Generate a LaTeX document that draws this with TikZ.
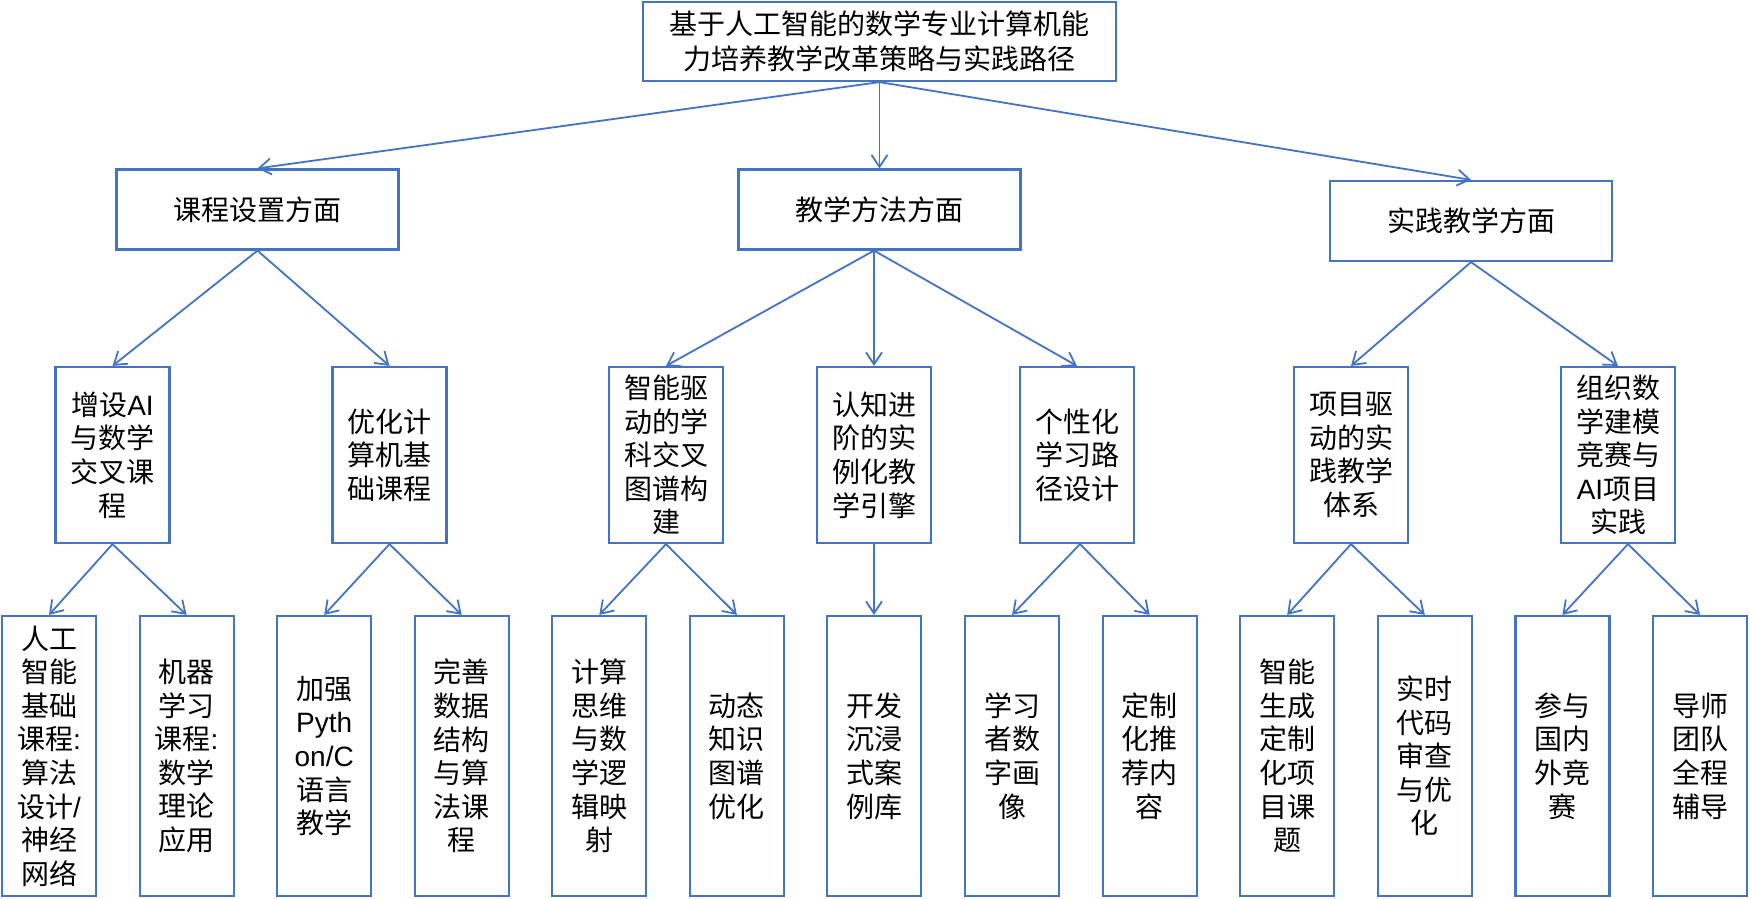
\documentclass[tikz,border=0pt]{standalone}
\usepackage{fontspec}
\setmainfont{Noto Sans CJK SC}
\newfontfamily\lat{Liberation Sans}
\usetikzlibrary{arrows.meta}
\definecolor{bl}{HTML}{4472C4}
\begin{document}
\begin{tikzpicture}[x=1pt,y=-1pt,
 box/.style={draw=bl,line width=2.2pt,rectangle,inner sep=0pt,align=center,font=\fontsize{28}{33.6}\selectfont,fill=white},
 topbox/.style={box,minimum width=473pt,minimum height=79pt,font=\fontsize{28}{35}\selectfont},
 midbox/.style={box,minimum width=282pt,minimum height=80pt},
 lthree/.style={box,minimum width=114pt,minimum height=176pt},
 lfour/.style={box,minimum width=94pt,minimum height=280pt},
 conn/.style={draw=bl,line width=1.8pt,-{Straight Barb[length=12pt,width=16pt]}}
]
\fill[white] (0,0) rectangle (1750,898);
\useasboundingbox (0,0) rectangle (1750,898);

% level 1
\node[topbox] (top) at (879.5,41.5) {基于人工智能的数学专业计算机能\\力培养教学改革策略与实践路径};

% level 2
\node[midbox] (a) at (257.5,209.5) {课程设置方面};
\node[midbox] (b) at (879.5,209.5) {教学方法方面};
\node[midbox] (c) at (1471,221) {实践教学方面};
\coordinate (bs) at ([xshift=-5.5pt]b.south);

% level 3
\node[lthree] (a1) at (112.5,455) {增设{\lat AI}\\与数学\\交叉课\\程};
\node[lthree] (a2) at (389.5,455) {优化计\\算机基\\础课程};
\node[lthree] (b1) at (666,455) {智能驱\\动的学\\科交叉\\图谱构\\建};
\node[lthree] (b2) at (874,455) {认知进\\阶的实\\例化教\\学引擎};
\node[lthree] (b3) at (1077,455) {个性化\\学习路\\径设计};
\node[lthree] (c1) at (1351,455) {项目驱\\动的实\\践教学\\体系};
\node[lthree] (c2) at (1618,455) {组织数\\学建模\\竞赛与\\{\lat AI}项目\\实践};

% level 4
\node[lfour] (d1) at (49,756) {人工\\智能\\基础\\课程{\lat :}\\算法\\设计{\lat /}\\神经\\网络};
\node[lfour] (d2) at (186.6,756) {机器\\学习\\课程{\lat :}\\数学\\理论\\应用};
\node[lfour] (d3) at (324.2,756) {加强\\{\lat Pyth}\\{\lat on/C}\\语言\\教学};
\node[lfour] (d4) at (461.7,756) {完善\\数据\\结构\\与算\\法课\\程};
\node[lfour] (d5) at (599.3,756) {计算\\思维\\与数\\学逻\\辑映\\射};
\node[lfour] (d6) at (736.9,756) {动态\\知识\\图谱\\优化};
\node[lfour] (d7) at (874,756) {开发\\沉浸\\式案\\例库};
\node[lfour] (d8) at (1012.1,756) {学习\\者数\\字画\\像};
\node[lfour] (d9) at (1149.6,756) {定制\\化推\\荐内\\容};
\node[lfour] (d10) at (1287.2,756) {智能\\生成\\定制\\化项\\目课\\题};
\node[lfour] (d11) at (1424.8,756) {实时\\代码\\审查\\与优\\化};
\node[lfour] (d12) at (1562.4,756) {参与\\国内\\外竞\\赛};
\node[lfour] (d13) at (1700,756) {导师\\团队\\全程\\辅导};

% connectors
\draw[conn] (top.south) -- (a.north);
\draw[conn] (top.south) -- (b.north);
\draw[conn] (top.south) -- (c.north);

\draw[conn] (a.south) -- (a1.north);
\draw[conn] (a.south) -- (a2.north);
\draw[conn] (bs) -- (b1.north);
\draw[conn] (bs) -- (b2.north);
\draw[conn] (bs) -- (b3.north);
\draw[conn] (c.south) -- (c1.north);
\draw[conn] (c.south) -- (c2.north);

\draw[conn] (a1.south) -- (d1.north);
\draw[conn] (a1.south) -- (d2.north);
\draw[conn] (a2.south) -- (d3.north);
\draw[conn] (a2.south) -- (d4.north);
\draw[conn] (b1.south) -- (d5.north);
\draw[conn] (b1.south) -- (d6.north);
\draw[conn] (b2.south) -- (d7.north);
\draw[conn] ([xshift=3pt]b3.south) -- (d8.north);
\draw[conn] ([xshift=3pt]b3.south) -- (d9.north);
\draw[conn] (c1.south) -- (d10.north);
\draw[conn] (c1.south) -- (d11.north);
\draw[conn] ([xshift=10pt]c2.south) -- (d12.north);
\draw[conn] ([xshift=10pt]c2.south) -- (d13.north);
\end{tikzpicture}
\end{document}
